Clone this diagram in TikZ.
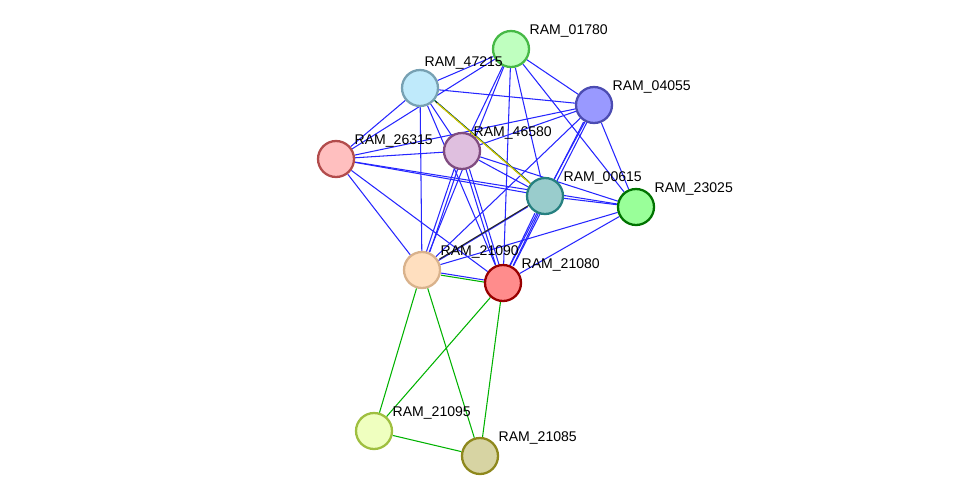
\documentclass[tikz,border=0pt]{standalone}
\usepackage{fontspec}
\setmainfont{Liberation Sans}
\usetikzlibrary{backgrounds}
\tikzset{
  prot/.style={circle, draw, line width=1.3pt, minimum size=0.72cm, inner sep=0pt},
  lbl/.style={font=\fontsize{8}{9}\selectfont, inner sep=1pt, anchor=south west},
  bl/.style={draw=blue!85!white, line width=0.6pt},
  gr/.style={draw=green!70!black, line width=0.6pt},
}
\begin{document}
\begin{tikzpicture}[x=0.02cm, y=-0.02cm]
    \useasboundingbox (0,0) rectangle (976,501);

    % Proteins
    \node[prot, fill=green!25!white, draw=green!45!gray, label={[lbl]30:RAM\_01780}] (p01780) at (511,49) {};
    \node[prot, fill=cyan!25!white, draw=cyan!35!gray, label={[lbl,xshift=-4pt]60:RAM\_47215}] (p47215) at (420,88) {};
    \node[prot, fill=blue!40!white, draw=blue!40!gray, label={[lbl]30:RAM\_04055}] (p04055) at (594,105) {};
    \node[prot, fill=red!25!white, draw=red!40!gray, label={[lbl]30:RAM\_26315}] (p26315) at (336,159) {};
    \node[prot, fill=violet!25!white, draw=violet!40!gray, label={[lbl,xshift=-4pt]30:RAM\_46580}] (p46580) at (462,151) {};
    \node[prot, fill=teal!40!white, draw=teal!70!gray, label={[lbl]30:RAM\_00615}] (p00615) at (545,196) {};
    \node[prot, fill=green!40!white, draw=green!45!black, label={[lbl]30:RAM\_23025}] (p23025) at (636,207) {};
    \node[prot, fill=orange!25!white, draw=brown!60!white, label={[lbl]30:RAM\_21090}] (p21090) at (422,270) {};
    \node[prot, fill=red!45!white, draw=red!60!black, label={[lbl]30:RAM\_21080}] (p21080) at (503,283) {};
    \node[prot, fill=lime!25!white, draw=lime!50!gray, label={[lbl]30:RAM\_21095}] (p21095) at (374,431) {};
    \node[prot, fill=yellow!40!gray!60!white, draw=olive!80!gray, label={[lbl]30:RAM\_21085}] (p21085) at (480,456) {};

    \begin{scope}[on background layer]
    % Blue associations
    \foreach \a/\b in {47215/01780, 47215/04055, 47215/26315, 47215/46580, 47215/21090, 47215/21080,
                       01780/26315, 01780/46580, 01780/21090, 01780/21080, 01780/00615, 01780/04055, 01780/23025,
                       04055/46580, 04055/26315, 04055/21090, 04055/23025, 04055/00615,
                       26315/46580, 26315/00615, 26315/21090, 26315/21080, 26315/23025,
                       46580/00615, 46580/23025, 00615/23025, 23025/21090, 23025/21080, 21090/21080}
        \draw[bl] (p\a) -- (p\b);
    % Double blue
    \foreach \a/\b in {04055/21080, 46580/21090, 46580/21080, 00615/21080}{
        \draw[bl, transform canvas={xshift=-1pt}] (p\a) -- (p\b);
        \draw[bl, transform canvas={xshift=1pt}] (p\a) -- (p\b);
    }
    % Multi-evidence
    \draw[bl, transform canvas={shift={(-1.5pt,1.5pt)}}] (p47215) -- (p00615);
    \draw[gr, transform canvas={shift={(-0.5pt,0.5pt)}}] (p47215) -- (p00615);
    \draw[draw=gray!30!black, line width=0.6pt, transform canvas={shift={(0.5pt,-0.5pt)}}] (p47215) -- (p00615);
    \draw[draw=yellow!70!olive, line width=0.6pt, transform canvas={shift={(1.5pt,-1.5pt)}}] (p47215) -- (p00615);
    \draw[bl, transform canvas={shift={(-0.6pt,-0.6pt)}}] (p00615) -- (p21090);
    \draw[draw=gray!30!black, line width=0.6pt, transform canvas={shift={(0.6pt,0.6pt)}}] (p00615) -- (p21090);
    \draw[gr, transform canvas={yshift=-1.2pt}] (p21090) -- (p21080);
    % Green associations
    \foreach \a/\b in {21090/21095, 21090/21085, 21080/21095, 21080/21085, 21095/21085}
        \draw[gr] (p\a) -- (p\b);
    \end{scope}
\end{tikzpicture}
\end{document}
